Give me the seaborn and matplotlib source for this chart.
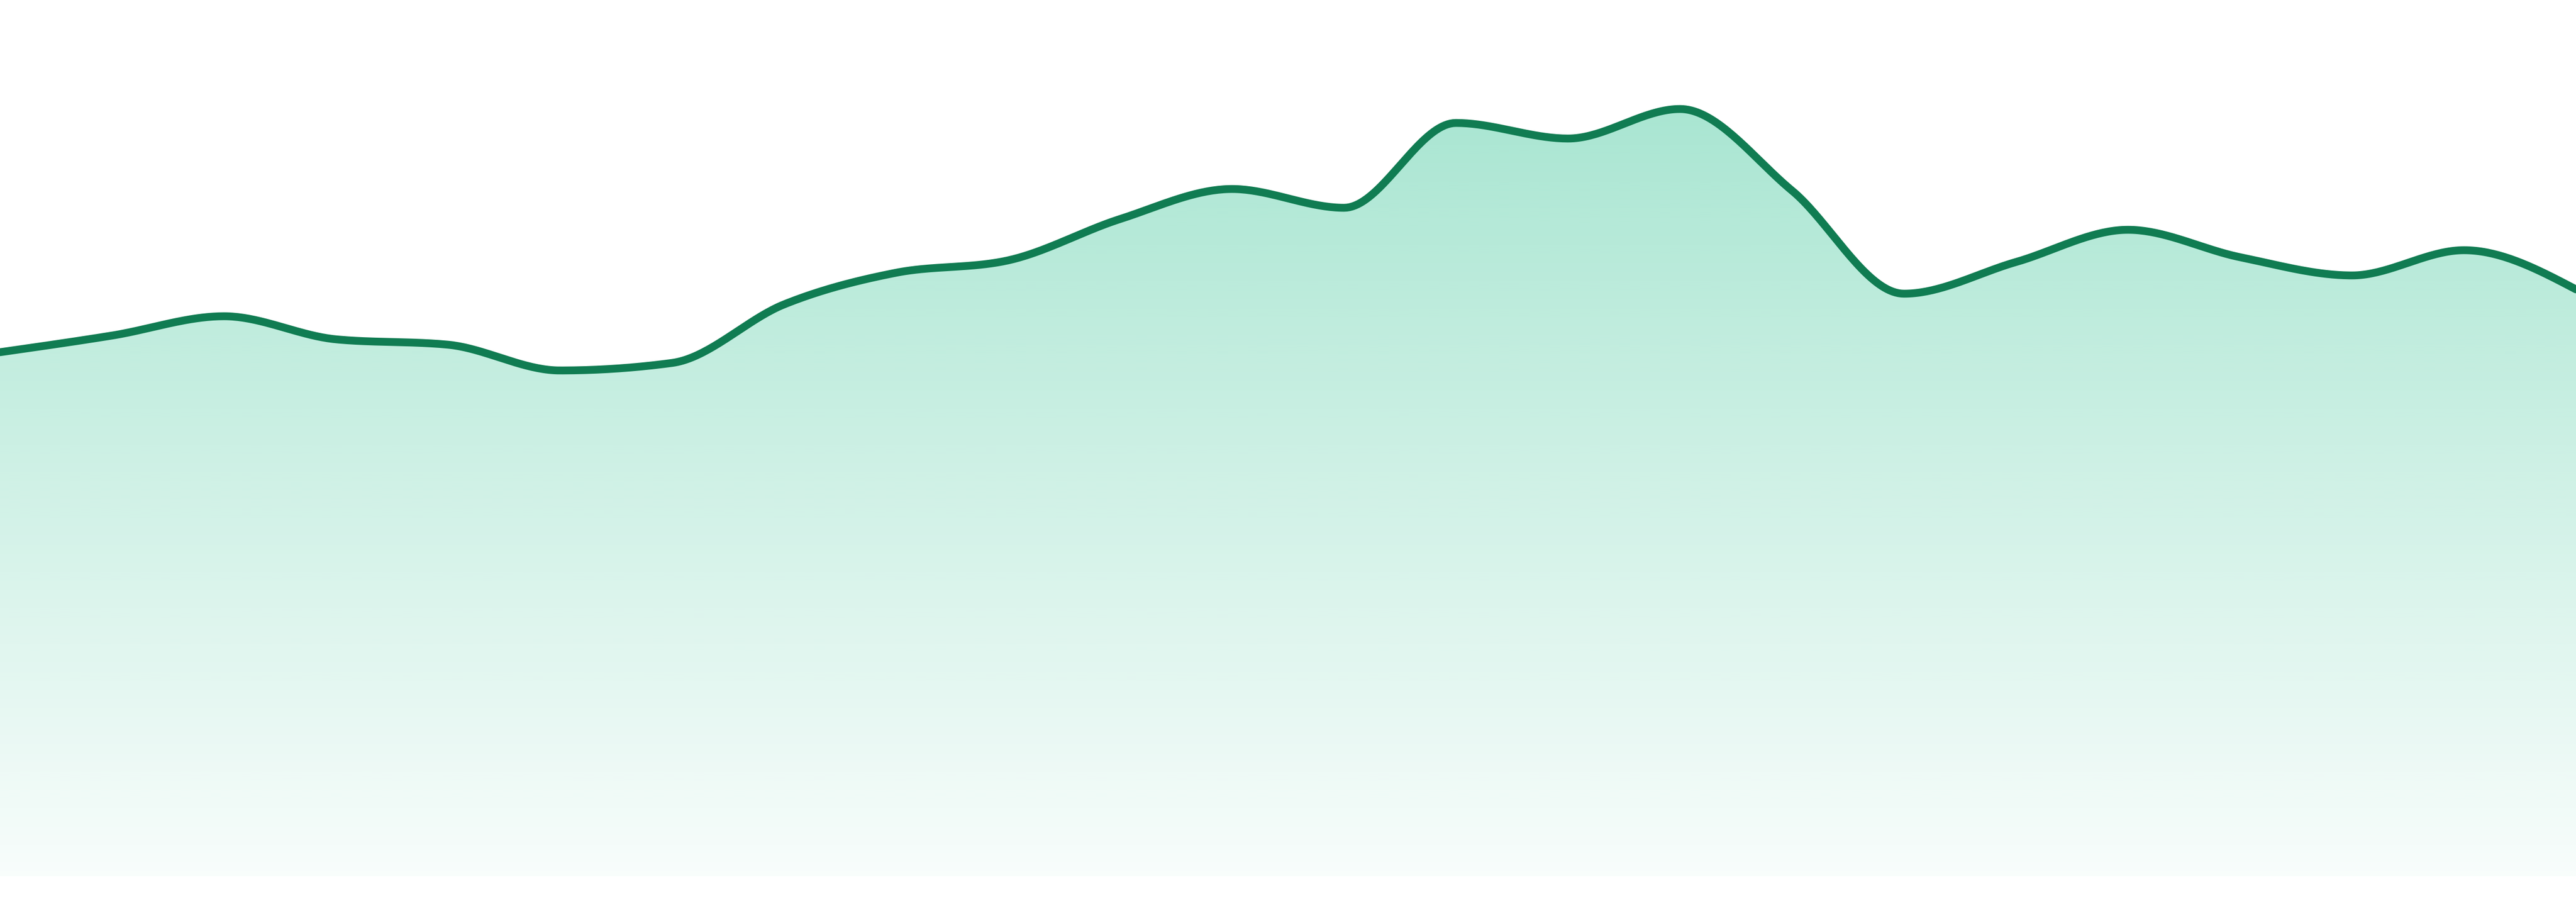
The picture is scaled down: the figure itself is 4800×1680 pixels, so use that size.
import numpy as np
import pandas as pd
import matplotlib
matplotlib.use("Agg")
import matplotlib.pyplot as plt
import seaborn as sns

# --- Data (24 evenly spaced points) ---
point_index = list(range(24))
values = [97.6, 100.7, 104.3, 100.0, 99.0, 94.2, 95.6, 106.5, 112.4, 114.7,
          122.4, 128.0, 124.5, 140.3, 137.4, 142.9, 127.7, 108.5, 114.4, 120.4,
          115.3, 111.9, 116.6, 109.3]

LINE_COLOR = '#107c52'
FILL_RGB = (16 / 255, 185 / 255, 129 / 255)


def monotone_curve(x, y, steps=40):
    # same smoothing as d3.curveMonotoneX (Steffen tangents + cubic Hermite)
    x = np.asarray(x, float)
    y = np.asarray(y, float)
    n = len(x)
    h = np.diff(x)
    s = np.diff(y) / h
    t = np.zeros(n)
    for i in range(1, n - 1):
        p = (s[i - 1] * h[i] + s[i] * h[i - 1]) / (h[i - 1] + h[i])
        t[i] = (np.sign(s[i - 1]) + np.sign(s[i])) * min(abs(s[i - 1]), abs(s[i]), 0.5 * abs(p))
    t[0] = (3 * s[0] - t[1]) / 2
    t[-1] = (3 * s[-1] - t[-2]) / 2
    xs, ys = [], []
    for i in range(n - 1):
        u = np.linspace(0, 1, steps, endpoint=(i == n - 2))
        h00 = 2 * u**3 - 3 * u**2 + 1
        h10 = u**3 - 2 * u**2 + u
        h01 = -2 * u**3 + 3 * u**2
        h11 = u**3 - u**2
        xs.append(x[i] + u * h[i])
        ys.append(h00 * y[i] + h10 * h[i] * t[i] + h01 * y[i + 1] + h11 * h[i] * t[i + 1])
    return np.concatenate(xs), np.concatenate(ys)


df = pd.DataFrame({'idx': point_index, 'value': values})
cx, cy = monotone_curve(df['idx'], df['value'])
curve = pd.DataFrame({'idx': cx, 'value': cy})

sns.set_theme(style='white')
fig = plt.figure(figsize=(16, 5.6), dpi=300)
ax = fig.add_axes([0, 0, 1, 1])
ax.set_xlim(0, 23)
ax.set_ylim(-4.8, 163.2)

# gradient fill under the curve
top = max(values)
alphas = np.linspace(0.36, 0.03, 256)
grad = np.zeros((256, 1, 4))
grad[:, 0, 0:3] = FILL_RGB
grad[:, 0, 3] = alphas
img = ax.imshow(grad, extent=[0, 23, 0, top], origin='upper', aspect='auto', zorder=1,
                interpolation='bilinear')
area = ax.fill_between(curve['idx'], 0, curve['value'], color='none', lw=0)
clip_path = area.get_paths()[0]
img.set_clip_path(clip_path, transform=ax.transData)

sns.lineplot(data=curve, x='idx', y='value', ax=ax, color=LINE_COLOR, linewidth=3.5,
             sort=False, estimator=None, zorder=3)
ax.lines[-1].set_solid_capstyle('round')

ax.set_xlim(0, 23)
ax.set_ylim(-4.8, 163.2)
ax.axis('off')
fig.savefig('out.png', dpi=300, facecolor='white')
